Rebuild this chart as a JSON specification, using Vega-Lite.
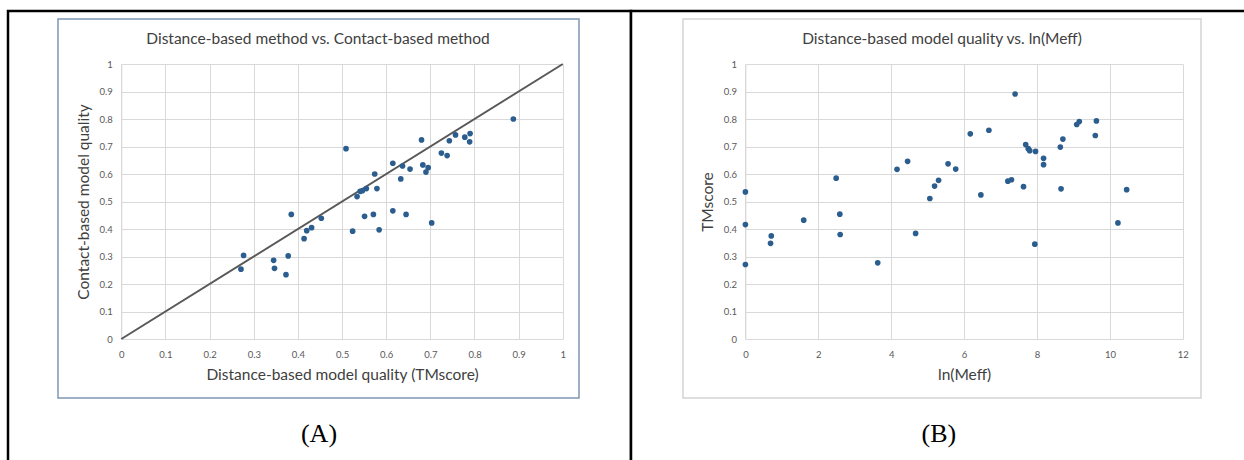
{
  "$schema": "https://vega.github.io/schema/vega-lite/v6.json",
  "padding": {"left": 6, "top": 9, "right": 0, "bottom": 0},
  "background": "white",
  "spacing": 0,
  "bounds": "flush",
  "config": {
    "view": {"stroke": "black", "strokeWidth": 2.5, "fill": "white"},
    "axis": {
      "grid": true, "gridColor": "#d9d9d9", "gridWidth": 1,
      "domainColor": "#d9d9d9", "ticks": false, "tickSize": 0,
      "labelFont": "Lato", "labelFontSize": 9.5, "labelColor": "#595959",
      "labelFlush": false, "labelOverlap": false,
      "titleFont": "Lato", "titleFontSize": 15.5, "titleFontWeight": "normal", "titleColor": "#404040"
    }
  },
  "datasets": {
    "panelA": [
      {"distance_tm": 0.271, "contact_tm": 0.254},
      {"distance_tm": 0.277, "contact_tm": 0.304},
      {"distance_tm": 0.345, "contact_tm": 0.286},
      {"distance_tm": 0.347, "contact_tm": 0.257},
      {"distance_tm": 0.373, "contact_tm": 0.234},
      {"distance_tm": 0.378, "contact_tm": 0.302},
      {"distance_tm": 0.385, "contact_tm": 0.453},
      {"distance_tm": 0.414, "contact_tm": 0.365},
      {"distance_tm": 0.420, "contact_tm": 0.394},
      {"distance_tm": 0.431, "contact_tm": 0.405},
      {"distance_tm": 0.453, "contact_tm": 0.439},
      {"distance_tm": 0.509, "contact_tm": 0.692},
      {"distance_tm": 0.524, "contact_tm": 0.392},
      {"distance_tm": 0.534, "contact_tm": 0.518},
      {"distance_tm": 0.541, "contact_tm": 0.537},
      {"distance_tm": 0.546, "contact_tm": 0.539},
      {"distance_tm": 0.555, "contact_tm": 0.547},
      {"distance_tm": 0.551, "contact_tm": 0.446},
      {"distance_tm": 0.571, "contact_tm": 0.453},
      {"distance_tm": 0.574, "contact_tm": 0.600},
      {"distance_tm": 0.579, "contact_tm": 0.547},
      {"distance_tm": 0.584, "contact_tm": 0.397},
      {"distance_tm": 0.615, "contact_tm": 0.639},
      {"distance_tm": 0.615, "contact_tm": 0.466},
      {"distance_tm": 0.633, "contact_tm": 0.582},
      {"distance_tm": 0.637, "contact_tm": 0.629},
      {"distance_tm": 0.645, "contact_tm": 0.453},
      {"distance_tm": 0.654, "contact_tm": 0.618},
      {"distance_tm": 0.680, "contact_tm": 0.724},
      {"distance_tm": 0.683, "contact_tm": 0.633},
      {"distance_tm": 0.690, "contact_tm": 0.607},
      {"distance_tm": 0.695, "contact_tm": 0.623},
      {"distance_tm": 0.703, "contact_tm": 0.422},
      {"distance_tm": 0.725, "contact_tm": 0.676},
      {"distance_tm": 0.738, "contact_tm": 0.667},
      {"distance_tm": 0.743, "contact_tm": 0.721},
      {"distance_tm": 0.757, "contact_tm": 0.742},
      {"distance_tm": 0.778, "contact_tm": 0.734},
      {"distance_tm": 0.789, "contact_tm": 0.717},
      {"distance_tm": 0.790, "contact_tm": 0.747},
      {"distance_tm": 0.888, "contact_tm": 0.800}
    ],
    "diagonal": [
      {"distance_tm": 0, "contact_tm": 0},
      {"distance_tm": 1, "contact_tm": 1}
    ],
    "panelB": [
      {"ln_meff": 0.0, "tmscore": 0.535},
      {"ln_meff": 0.0, "tmscore": 0.416},
      {"ln_meff": 0.0, "tmscore": 0.271},
      {"ln_meff": 0.69, "tmscore": 0.348},
      {"ln_meff": 0.71, "tmscore": 0.375},
      {"ln_meff": 1.60, "tmscore": 0.432},
      {"ln_meff": 2.49, "tmscore": 0.585},
      {"ln_meff": 2.59, "tmscore": 0.454},
      {"ln_meff": 2.60, "tmscore": 0.380},
      {"ln_meff": 3.63, "tmscore": 0.277},
      {"ln_meff": 4.16, "tmscore": 0.617},
      {"ln_meff": 4.45, "tmscore": 0.646},
      {"ln_meff": 4.67, "tmscore": 0.384},
      {"ln_meff": 5.06, "tmscore": 0.511},
      {"ln_meff": 5.19, "tmscore": 0.556},
      {"ln_meff": 5.30, "tmscore": 0.577},
      {"ln_meff": 5.56, "tmscore": 0.637},
      {"ln_meff": 5.77, "tmscore": 0.618},
      {"ln_meff": 6.17, "tmscore": 0.746},
      {"ln_meff": 6.46, "tmscore": 0.524},
      {"ln_meff": 6.68, "tmscore": 0.759},
      {"ln_meff": 7.20, "tmscore": 0.574},
      {"ln_meff": 7.30, "tmscore": 0.579},
      {"ln_meff": 7.40, "tmscore": 0.891},
      {"ln_meff": 7.63, "tmscore": 0.554},
      {"ln_meff": 7.69, "tmscore": 0.707},
      {"ln_meff": 7.76, "tmscore": 0.692},
      {"ln_meff": 7.80, "tmscore": 0.685},
      {"ln_meff": 7.96, "tmscore": 0.682},
      {"ln_meff": 7.94, "tmscore": 0.345},
      {"ln_meff": 8.18, "tmscore": 0.657},
      {"ln_meff": 8.18, "tmscore": 0.634},
      {"ln_meff": 8.64, "tmscore": 0.698},
      {"ln_meff": 8.66, "tmscore": 0.546},
      {"ln_meff": 8.71, "tmscore": 0.727},
      {"ln_meff": 9.09, "tmscore": 0.780},
      {"ln_meff": 9.16, "tmscore": 0.791},
      {"ln_meff": 9.60, "tmscore": 0.740},
      {"ln_meff": 9.63, "tmscore": 0.793},
      {"ln_meff": 10.22, "tmscore": 0.422},
      {"ln_meff": 10.46, "tmscore": 0.543}
    ]
  },
  "hconcat": [
    {
      "width": 623,
      "height": 470,
      "layer": [
        {
          "data": {"values": [{"box": "chart area"}]},
          "mark": {"type": "rect", "fillOpacity": 0, "stroke": "#7d96b3", "strokeWidth": 1.5, "clip": false},
          "encoding": {
            "x": {"datum": -0.1434, "type": "quantitative", "scale": {"domain": [0, 1], "range": [113.3, 554.8], "nice": false, "zero": false}},
            "x2": {"datum": 1.0367},
            "y": {"datum": 1.1636, "type": "quantitative", "scale": {"domain": [0, 1], "range": [328, 53], "nice": false, "zero": false}},
            "y2": {"datum": -0.2145}
          }
        },
        {
          "data": {"name": "diagonal"},
          "mark": {"type": "line", "color": "#595959", "strokeWidth": 2},
          "encoding": {
            "x": {"field": "distance_tm", "type": "quantitative"},
            "y": {"field": "contact_tm", "type": "quantitative"}
          }
        },
        {
          "data": {"name": "panelA"},
          "mark": {"type": "circle", "size": 32, "color": "#2b5d8e", "opacity": 1},
          "encoding": {
            "x": {
              "field": "distance_tm", "type": "quantitative",
              "scale": {"domain": [0, 1], "range": [113.3, 554.8], "nice": false, "zero": false},
              "axis": {"title": "Distance-based model quality (TMscore)", "orient": "top", "values": [0, 0.1, 0.2, 0.3, 0.4, 0.5, 0.6, 0.7, 0.8, 0.9, 1], "format": ".1~f", "offset": -328, "labelPadding": -10, "labelBaseline": "top", "titleY": 35, "titleBaseline": "middle"}
            },
            "y": {
              "field": "contact_tm", "type": "quantitative",
              "scale": {"domain": [0, 1], "range": [328, 53], "nice": false, "zero": false},
              "axis": {"title": "Contact-based model quality", "values": [0, 0.1, 0.2, 0.3, 0.4, 0.5, 0.6, 0.7, 0.8, 0.9, 1], "format": ".1~f", "offset": -113.3, "labelPadding": 9, "titlePadding": 8}
            }
          }
        },
        {
          "data": {"values": [{"title": "Distance-based method vs. Contact-based method"}]},
          "mark": {"type": "text", "font": "Lato", "fontSize": 15.5, "color": "#404040", "align": "center", "baseline": "middle"},
          "encoding": {
            "x": {"datum": 0.4455, "type": "quantitative"},
            "y": {"datum": 1.0909, "type": "quantitative"},
            "text": {"field": "title"}
          }
        },
        {
          "data": {"values": [{"label": "(A)"}]},
          "mark": {"type": "text", "font": "Liberation Serif", "fontSize": 26, "color": "black", "align": "center", "baseline": "middle"},
          "encoding": {
            "x": {"datum": 0.4478, "type": "quantitative"},
            "y": {"datum": -0.3455, "type": "quantitative"},
            "text": {"field": "label"}
          }
        }
      ]
    },
    {
      "width": 620,
      "height": 470,
      "layer": [
        {
          "data": {"values": [{"box": "chart area"}]},
          "mark": {"type": "rect", "fillOpacity": 0, "stroke": "#d4d4d4", "strokeWidth": 1.5, "clip": false},
          "encoding": {
            "x": {"datum": -1.712, "type": "quantitative", "scale": {"domain": [0, 12], "range": [114.4, 551.8], "nice": false, "zero": false}},
            "x2": {"datum": 12.499},
            "y": {"datum": 1.1636, "type": "quantitative", "scale": {"domain": [0, 1], "range": [328, 53], "nice": false, "zero": false}},
            "y2": {"datum": -0.2145}
          }
        },
        {
          "data": {"name": "panelB"},
          "mark": {"type": "circle", "size": 32, "color": "#2b5d8e", "opacity": 1},
          "encoding": {
            "x": {
              "field": "ln_meff", "type": "quantitative",
              "scale": {"domain": [0, 12], "range": [114.4, 551.8], "nice": false, "zero": false},
              "axis": {"title": "ln(Meff)", "orient": "top", "values": [0, 2, 4, 6, 8, 10, 12], "format": "d", "offset": -328, "labelPadding": -10, "labelBaseline": "top", "titleY": 35, "titleBaseline": "middle"}
            },
            "y": {
              "field": "tmscore", "type": "quantitative",
              "scale": {"domain": [0, 1], "range": [328, 53], "nice": false, "zero": false},
              "axis": {"title": "TMscore", "values": [0, 0.1, 0.2, 0.3, 0.4, 0.5, 0.6, 0.7, 0.8, 0.9, 1], "format": ".1~f", "offset": -114.4, "labelPadding": 9, "titlePadding": 8}
            }
          }
        },
        {
          "data": {"values": [{"title": "Distance-based model quality vs. ln(Meff)"}]},
          "mark": {"type": "text", "font": "Lato", "fontSize": 15.5, "color": "#404040", "align": "center", "baseline": "middle"},
          "encoding": {
            "x": {"datum": 5.394, "type": "quantitative"},
            "y": {"datum": 1.0909, "type": "quantitative"},
            "text": {"field": "title"}
          }
        },
        {
          "data": {"values": [{"label": "(B)"}]},
          "mark": {"type": "text", "font": "Liberation Serif", "fontSize": 26, "color": "black", "align": "center", "baseline": "middle"},
          "encoding": {
            "x": {"datum": 5.31, "type": "quantitative"},
            "y": {"datum": -0.3455, "type": "quantitative"},
            "text": {"field": "label"}
          }
        }
      ]
    }
  ]
}
